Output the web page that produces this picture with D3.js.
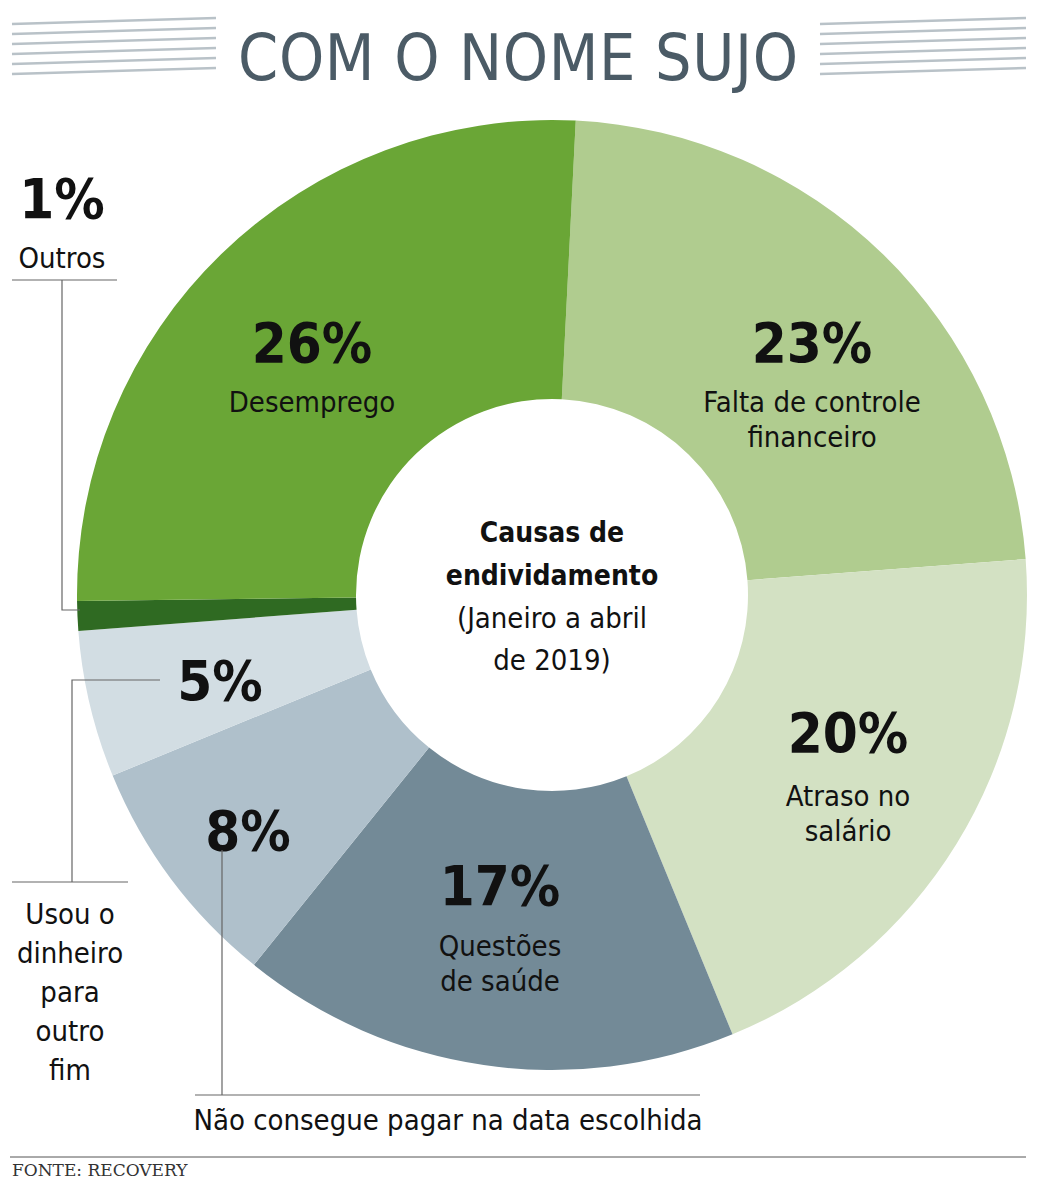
<!DOCTYPE html>
<html><head><meta charset="utf-8">
<script src="https://cdn.jsdelivr.net/npm/d3@7"></script>
<style>body{margin:0;background:#fff}</style>
</head><body><svg id="c" width="1062" height="1200"></svg>
<script>
// Causas de endividamento, jan-abr 2019
var causes = ["Falta de controle financeiro", "Atraso no salário", "Questões de saúde",
  "Não consegue pagar na data escolhida", "Usou o dinheiro para outro fim", "Outros", "Desemprego"];
var shares = [23, 20, 17, 8, 5, 1, 26];
var colors = ["#b0cc8f", "#d3e1c3", "#738a97", "#afc0cb", "#d2dde3", "#2f6a22", "#6aa636"];

var svg = d3.select('#c');
var font = '"DejaVu Sans Condensed", "Liberation Sans Narrow", sans-serif';
var cx = 552, cy = 595, rOut = 475, rIn = 196;

// title with striped blocks
function stripes(x0, x1) {
  for (var i = 0; i < 6; i++) {
    svg.append('line').attr('x1', x0).attr('x2', x1)
      .attr('y1', 24 + i * 10).attr('y2', 22 + i * 10 - 4)
      .attr('stroke', '#b9c2c8').attr('stroke-width', 2.5);
  }
}
stripes(12, 216);
stripes(820, 1026);
svg.append('text').attr('x', 518).attr('y', 80).attr('text-anchor', 'middle')
  .attr('font-family', font).attr('font-size', 64).attr('fill', '#4b5b66')
  .attr('textLength', 560).attr('font-weight', 300).text('COM O NOME SUJO');

var pie = d3.pie().sort(null).value(function(d) { return d; })
  .startAngle(0.05).endAngle(0.05 + 2 * Math.PI);
var arc = d3.arc().innerRadius(rIn).outerRadius(rOut);
var g = svg.append('g').attr('transform', 'translate(' + cx + ',' + cy + ')');
g.selectAll('path').data(pie(shares)).enter().append('path')
  .attr('d', arc).attr('fill', function(d, i) { return colors[i]; });

function label(x, y, lines, size, weight, lh) {
  var t = svg.append('text').attr('x', x).attr('y', y)
    .attr('text-anchor', 'middle').attr('font-family', font)
    .attr('font-size', size).attr('font-weight', weight || 'normal').attr('fill', '#111');
  lines.forEach(function(l, k) {
    t.append('tspan').attr('x', x).attr('dy', k ? (lh || size * 1.2) : 0).text(l);
  });
}
function pct(x, y, v) { label(x, y, [v + '%'], 56, 'bold'); }

pct(312, 362, shares[6]); label(312, 412, ['Desemprego'], 29);
pct(812, 362, shares[0]); label(812, 412, ['Falta de controle', 'financeiro'], 29);
pct(848, 752, shares[1]); label(848, 806, ['Atraso no', 'salário'], 29);
pct(500, 905, shares[2]); label(500, 956, ['Questões', 'de saúde'], 29);
pct(248, 850, shares[3]);
pct(220, 700, shares[4]);
pct(62, 218, shares[5]); label(62, 268, ['Outros'], 29);

label(552, 542, ['Causas de', 'endividamento'], 28, 'bold', 43);
label(552, 628, ['(Janeiro a abril', 'de 2019)'], 29, 'normal', 42);
label(448, 1130, [causes[3]], 29);
label(70, 924, ['Usou o', 'dinheiro', 'para', 'outro', 'fim'], 29, 'normal', 39);

// leader lines
var ln = svg.append('g').attr('stroke', '#666').attr('stroke-width', 1.2).attr('fill', 'none');
ln.append('path').attr('d', 'M12,280 H117 M62,280 V610 H80');
ln.append('path').attr('d', 'M160,680 H72 V882 M12,882 H128');
ln.append('path').attr('d', 'M222,850 V1095 M195,1095 H700');

svg.append('line').attr('x1', 10).attr('x2', 1026).attr('y1', 1157).attr('y2', 1157)
  .attr('stroke', '#555').attr('stroke-width', 1);
svg.append('text').attr('x', 12).attr('y', 1176).attr('font-family', '"DejaVu Serif", serif')
  .attr('font-size', 17).attr('fill', '#333').text('FONTE: RECOVERY');
</script></body></html>
